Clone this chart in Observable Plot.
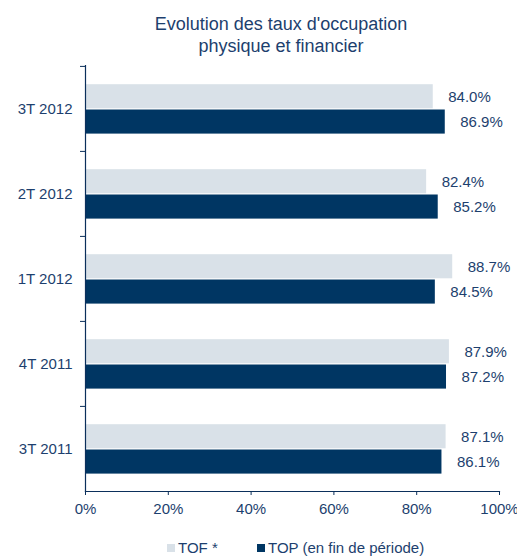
<!DOCTYPE html>
<html>
<head>
<meta charset="utf-8">
<script src="https://cdn.jsdelivr.net/npm/d3@7"></script>
<script src="https://cdn.jsdelivr.net/npm/@observablehq/plot@0.6"></script>
<style>
  html, body { margin: 0; padding: 0; background: #fff; }
  body { width: 517px; height: 556px; overflow: hidden; font-family: "Liberation Sans", Arial, sans-serif; color: #1d3f6e; }
  #title { padding: 13px 0 0 45px; width: 472px; text-align: center; font-size: 18px; line-height: 22px; height: 44px; }
  #chart { height: 478px; }
  #legend { position: relative; height: 22px; font-size: 15px; }
  .item { position: absolute; top: 4px; display: flex; align-items: center; line-height: 18px; }
  .sw { width: 8px; height: 8px; margin-right: 3px; }
</style>
</head>
<body>
<div id="title">Evolution des taux d'occupation<br>physique et financier</div>
<div id="chart"></div>
<div id="legend"></div>
<script>
const periods = ["3T 2012", "2T 2012", "1T 2012", "4T 2011", "3T 2011"];
const tofValues = [84.0, 82.4, 88.7, 87.9, 87.1];
const topValues = [86.9, 85.2, 84.5, 87.2, 86.1];
const seriesNames = ["TOF *", "TOP (en fin de période)"];
const xTicks = [0, 20, 40, 60, 80, 100];

const lightColor = "#d9e1e8";
const darkColor = "#003663";
const textColor = "#1d3f6e";
const axisColor = "#0b2f5b";

const data = periods.map((p, i) => ({period: p, tof: tofValues[i], top: topValues[i]}));
const pct = d => d.toFixed(1) + "%";

const chart = Plot.plot({
  width: 517,
  height: 478,
  marginTop: 8,
  marginLeft: 85,
  marginRight: 18,
  marginBottom: 44,
  style: {fontFamily: "'Liberation Sans', Arial, sans-serif", fontSize: "15px", color: textColor, background: "white", overflow: "visible"},
  x: {domain: [0, 100], label: null},
  y: {domain: periods, padding: 0, label: null},
  marks: [
    Plot.barX(data, {x: "tof", y: "period", fill: lightColor, insetTop: 18.2, insetBottom: 42.7}),
    Plot.barX(data, {x: "top", y: "period", fill: darkColor, insetTop: 43.5, insetBottom: 17.4}),
    Plot.text(data, {x: "tof", y: "period", text: d => pct(d.tof), dx: 15, dy: -12.3, textAnchor: "start", fill: textColor, fontSize: 15}),
    Plot.text(data, {x: "top", y: "period", text: d => pct(d.top), dx: 15, dy: 13, textAnchor: "start", fill: textColor, fontSize: 15}),
    Plot.frame({anchor: "left", stroke: axisColor, strokeWidth: 1.2}),
    Plot.frame({anchor: "bottom", stroke: axisColor, strokeWidth: 1.2}),
    Plot.axisY({tickSize: 0, tickPadding: 13, fontSize: 15, fill: textColor}),
    Plot.axisY({tickSize: 5, text: null, dy: -42.6, stroke: axisColor}),
    Plot.axisX({ticks: xTicks, tickFormat: d => d + "%", tickSize: 4, tickPadding: 8, fontSize: 15, fill: textColor, stroke: axisColor})
  ]
});
document.getElementById("chart").appendChild(chart);

const legend = document.getElementById("legend");
const legendX = [167, 257];
const legendColors = [lightColor, darkColor];
seriesNames.forEach((name, i) => {
  const item = document.createElement("div");
  item.className = "item";
  item.style.left = legendX[i] + "px";
  const sw = document.createElement("span");
  sw.className = "sw";
  sw.style.background = legendColors[i];
  const t = document.createElement("span");
  t.textContent = name;
  item.appendChild(sw);
  item.appendChild(t);
  legend.appendChild(item);
});
</script>
</body>
</html>
